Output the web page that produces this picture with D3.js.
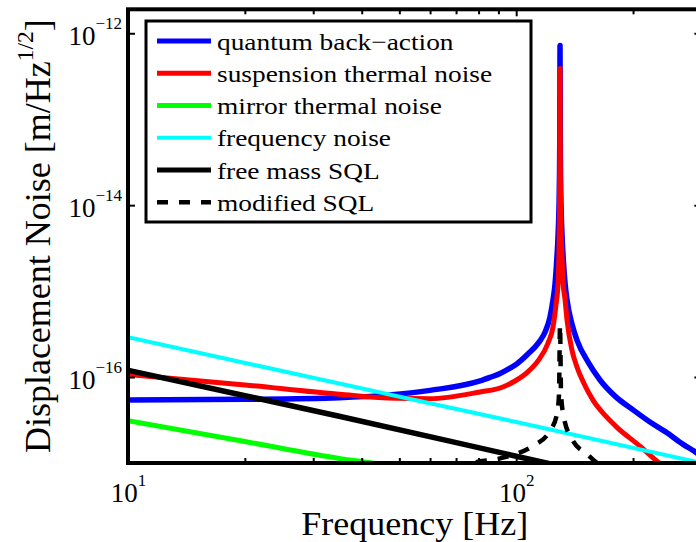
<!DOCTYPE html>
<html>
<head>
<meta charset="utf-8">
<script src="https://cdn.jsdelivr.net/npm/d3@7"></script>
<style>
  html, body { margin: 0; padding: 0; background: #fff; }
  svg { display: block; }
  text { font-family: "Liberation Serif", "Times New Roman", serif; fill: #000; }
</style>
</head>
<body>
<svg id="chart" width="696" height="542"></svg>
<script>
// Noise budget: [frequency (Hz), displacement noise (m/Hz^1/2)]
const quantumBackAction = [
  [10, 5.4e-17], [20, 5.5e-17], [35, 5.75e-17], [60, 7.0e-17], [80.7, 9.0e-17],
  [85.6, 9.9e-17], [90.9, 1.1e-16], [96.4, 1.27e-16], [100.5, 1.43e-16],
  [107.2, 1.85e-16], [114.5, 2.55e-16], [118.7, 3.34e-16], [122.2, 5.0e-16],
  [124.4, 7.9e-16], [125.9, 1.2e-15], [127.2, 2.3e-15], [128.2, 4.5e-15],
  [129.1, 1.4e-14], [129.5, 6e-14], [129.7, 7.2e-13], [129.9, 6e-14],
  [130.3, 1.4e-14], [131.2, 4.7e-15], [132.2, 2.4e-15], [133.6, 1.24e-15],
  [135.2, 7.9e-16], [139.2, 4.14e-16], [143.4, 2.69e-16], [153.1, 1.5e-16],
  [164.4, 9.25e-17], [179.7, 6.0e-17], [200, 4.15e-17], [221.1, 3.0e-17],
  [244.6, 2.25e-17], [263, 1.77e-17], [290.5, 1.33e-17], [300, 1.21e-17]
];
const suspensionThermal = [
  [10, 1.07e-16], [20, 8.1e-17], [35, 6.3e-17], [49, 5.65e-17], [60, 5.6e-17],
  [80.7, 6.7e-17], [90.9, 7.46e-17], [99.3, 9.0e-17], [107.2, 1.15e-16],
  [113.8, 1.54e-16], [120.8, 2.49e-16], [124.4, 3.82e-16], [126.6, 6.9e-16],
  [128.2, 1.24e-15], [129.1, 5e-15], [129.5, 3e-14], [129.7, 3.9e-13],
  [129.9, 3e-14], [130.4, 6e-15], [131.2, 2.6e-15], [132, 1.3e-15],
  [133.6, 8e-16], [135.2, 4.6e-16], [139.2, 2.06e-16], [143.4, 1.31e-16],
  [149.7, 8.3e-17], [157.7, 5.4e-17], [169.3, 3.6e-17], [181.8, 2.6e-17],
  [208.4, 1.57e-17], [230.5, 1.05e-17], [264.2, 6.6e-18]
];
const mirrorThermal = [
  [10, 3.1e-17], [20, 1.78e-17], [35, 1.13e-17], [42.5, 1.0e-17], [50, 8.8e-18]
];
const frequencyNoise = [
  [10, 2.9e-16], [35, 8.4e-17], [100, 3.0e-17], [300, 1.0e-17]
];
const freeMassSQL = [
  [10, 1.2e-16], [35, 3.5e-17], [100, 1.2e-17], [130, 9.2e-18]
];
const modifiedSQL = [
  [70, 8e-18], [77.4, 1.0e-17], [89.2, 1.11e-17], [98.1, 1.24e-17],
  [110.5, 1.58e-17], [122.2, 2.36e-17], [127.4, 3.72e-17], [128.9, 6.2e-17],
  [129.7, 4.0e-16], [130.5, 6.2e-17], [132.8, 3.33e-17], [139.2, 1.9e-17],
  [153.1, 1.24e-17], [161.5, 1.0e-17], [175, 8e-18]
];

const seriesLabels = [
  "quantum back\u2212action", "suspension thermal noise", "mirror thermal noise",
  "frequency noise", "free mass SQL", "modified SQL"
];

const xMajorTicks = [10, 100];
const xMinorTicks = [20, 30, 40, 50, 60, 70, 80, 90, 200];
const yMajorTicks = [1e-12, 1e-14, 1e-16];

// series styles, in drawing order
const series = [
  { data: quantumBackAction, color: "#0000ff", width: 5.5 },
  { data: suspensionThermal, color: "#ff0000", width: 5 },
  { data: mirrorThermal,     color: "#00ff00", width: 5 },
  { data: frequencyNoise,    color: "#00ffff", width: 4 },
  { data: freeMassSQL,       color: "#000000", width: 5.5 },
  { data: modifiedSQL,       color: "#000000", width: 4.5, dash: "11,11" }
].map((s, i) => ({ ...s, label: seriesLabels[i] }));

const svg = d3.select("#chart");
const plot = { left: 128, right: 701.4, top: 9.3, bottom: 463 };

const x = d3.scaleLog().domain([10, 300]).range([plot.left, plot.right]);
const y = d3.scaleLog().domain([1e-17, 1.9e-12]).range([plot.bottom, plot.top]);

svg.append("defs").append("clipPath").attr("id", "plotArea")
  .append("rect")
  .attr("x", plot.left).attr("y", plot.top)
  .attr("width", plot.right - plot.left).attr("height", plot.bottom - plot.top);

const line = d3.line()
  .x(d => x(d[0]))
  .y(d => y(d[1]))
  .curve(d3.curveMonotoneX);

const curves = svg.append("g").attr("clip-path", "url(#plotArea)");
series.forEach(s => {
  curves.append("path")
    .attr("d", line(s.data))
    .attr("fill", "none")
    .attr("stroke", s.color)
    .attr("stroke-width", s.width)
    .attr("stroke-linejoin", "round")
    .attr("stroke-dasharray", s.dash || null);
});

// axes: inward ticks on all four sides
function addAxis(axisFn, ticks, size, transform) {
  const g = svg.append("g").attr("transform", transform)
    .call(axisFn.tickValues(ticks).tickSizeInner(size).tickSizeOuter(0).tickFormat(() => ""));
  g.select(".domain").remove();
  g.selectAll(".tick line").attr("stroke", "#000").attr("stroke-width", 2);
  return g;
}
const xBottom = addAxis(d3.axisBottom(x), xMajorTicks, -7, `translate(0,${plot.bottom})`);
addAxis(d3.axisBottom(x), xMinorTicks, -5, `translate(0,${plot.bottom})`);
addAxis(d3.axisTop(x), xMajorTicks, -7, `translate(0,${plot.top})`);
addAxis(d3.axisTop(x), xMinorTicks, -5, `translate(0,${plot.top})`);
const yLeft = addAxis(d3.axisLeft(y), yMajorTicks, -7, `translate(${plot.left},0)`);
addAxis(d3.axisRight(y), yMajorTicks, -7, `translate(${plot.right},0)`);

// axes box
svg.append("rect")
  .attr("x", plot.left).attr("y", plot.top)
  .attr("width", plot.right - plot.left).attr("height", plot.bottom - plot.top)
  .attr("fill", "none").attr("stroke", "#000").attr("stroke-width", 4)
  .attr("stroke-linejoin", "miter");

// power-of-ten tick labels
function powerLabel(sel, exp) {
  sel.append("tspan").attr("font-size", 27).text("10");
  sel.append("tspan").attr("font-size", 17).attr("dy", -16.5)
    .text(exp < 0 ? "\u2212" + Math.abs(exp) : String(exp));
}
xBottom.selectAll(".tick").each(function(d) {
  const t = d3.select(this).append("text")
    .attr("x", 0).attr("y", 39).attr("text-anchor", "middle");
  powerLabel(t, Math.round(Math.log10(d)));
});
yLeft.selectAll(".tick").each(function(d) {
  const t = d3.select(this).append("text")
    .attr("x", -6).attr("y", 11.5).attr("text-anchor", "end");
  powerLabel(t, Math.round(Math.log10(d)));
});

// horizontal stretch of a text element to a given width factor
function stretch(t, factor) {
  const len = t.node().getComputedTextLength();
  t.attr("textLength", len * factor).attr("lengthAdjust", "spacingAndGlyphs");
}

// axis titles
const xTitle = svg.append("text")
  .attr("x", (plot.left + plot.right) / 2).attr("y", 535)
  .attr("text-anchor", "middle").attr("font-size", 34)
  .text("Frequency [Hz]");
stretch(xTitle, 227 / xTitle.node().getComputedTextLength());

const yTitle = svg.append("text")
  .attr("transform", `translate(50,${(plot.top + plot.bottom) / 2}) rotate(-90)`)
  .attr("text-anchor", "middle").attr("font-size", 36);
yTitle.append("tspan").text("Displacement Noise [m/Hz");
yTitle.append("tspan").attr("font-size", 23.5).attr("dy", -17).text("1/2");
yTitle.append("tspan").attr("dy", 17).text("]");

// legend
const legend = svg.append("g");
legend.append("rect")
  .attr("x", 146).attr("y", 21).attr("width", 385).attr("height", 201)
  .attr("fill", "#fff").attr("stroke", "#000").attr("stroke-width", 3);
series.forEach((s, i) => {
  const ry = 41 + i * 32.25;
  legend.append("line")
    .attr("x1", 157).attr("x2", 211).attr("y1", ry).attr("y2", ry)
    .attr("stroke", s.color).attr("stroke-width", s.dash ? 4.5 : (s.width === 4 ? 4 : 5))
    .attr("stroke-dasharray", s.dash || null);
  const t = legend.append("text")
    .attr("x", 217).attr("y", ry + 8.5).attr("font-size", 24)
    .text(s.label);
  stretch(t, 1.14);
});
</script>
</body>
</html>
